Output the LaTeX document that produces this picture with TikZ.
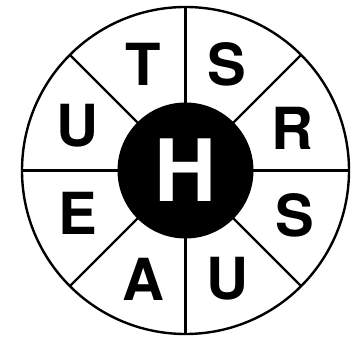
\documentclass[tikz,border=0pt]{standalone}
\usepackage{fontspec}
\setmainfont{TeX Gyre Heros}
\begin{document}
\begin{tikzpicture}[x=1pt,y=-1pt,
  ring/.style={draw=black,line width=2.4pt},
  letter/.style={font=\fontsize{58}{58}\selectfont\bfseries,inner sep=0pt,anchor=center},
  hub/.style={circle,fill=black,minimum size=136pt,inner sep=0pt}]
\useasboundingbox (0,0) rectangle (359,340);
\coordinate (c) at (185.5,170.5);
\draw[ring] (c) circle (163.5);
\node[hub] (h) at (c) {};
\foreach \a in {0,45,...,315}{
  \draw[ring] (c) ++(\a:67) -- ++(\a:97);
}
\node[font=\fontsize{86}{86}\selectfont\bfseries,text=white,inner sep=0pt] (hl) at (c) {H};
\node[letter] (l1) at (143,64) {T};
\node[letter] (l2) at (227,64) {S};
\node[letter] (l3) at (292,128) {R};
\node[letter] (l4) at (295,215) {S};
\node[letter] (l5) at (227,279) {U};
\node[letter] (l6) at (143,279) {A};
\node[letter] (l7) at (78,213) {E};
\node[letter] (l8) at (77,126) {U};
\end{tikzpicture}
\end{document}
